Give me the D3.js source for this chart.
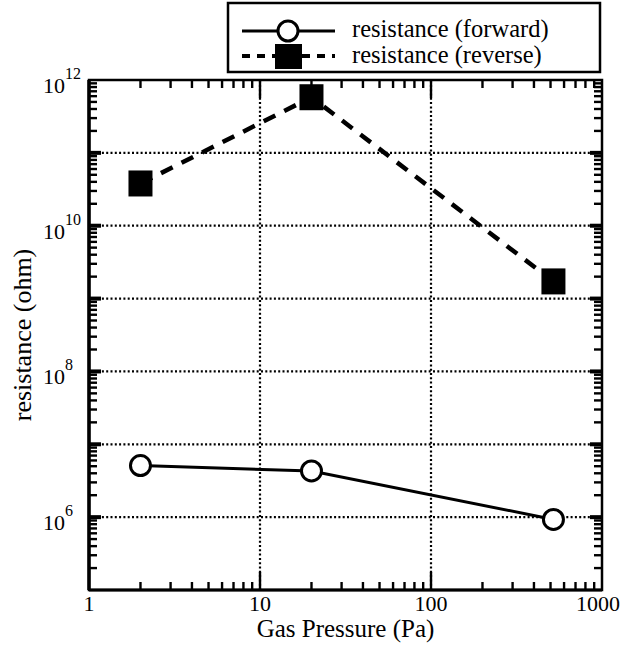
<!DOCTYPE html>
<html><head><meta charset="utf-8">
<script src="https://cdn.jsdelivr.net/npm/d3@7"></script>
<style>body{margin:0;background:#fff}svg{display:block}text{font-family:"Liberation Serif","Times New Roman",serif;fill:#000}</style>
</head><body>
<script>
const pressure = [2, 20, 520];
const forward = [5.1e6, 4.3e6, 9.3e5];
const reverse = [3.8e10, 5.8e11, 1.72e9];
const seriesNames = ["resistance (forward)", "resistance (reverse)"];
const xTickLabels = ["1", "10", "100", "1000"];
const yTickExp = [6, 8, 10, 12];

const W = 621, H = 648;
const m = {l: 89, r: 19, t: 80, b: 58};
const svg = d3.select("body").append("svg").attr("width", W).attr("height", H);
const x = d3.scaleLog().domain([1, 1000]).range([m.l, W - m.r]);
const y = d3.scaleLog().domain([1e5, 1e12]).range([H - m.b, m.t]);
const x0 = m.l, x1 = W - m.r, y0 = H - m.b, y1 = m.t;

// grid
const g = svg.append("g").attr("stroke", "#000").attr("stroke-width", 2.2).attr("stroke-dasharray", "2,2.3");
[10, 100].forEach(v => g.append("line").attr("x1", x(v)).attr("x2", x(v)).attr("y1", y0).attr("y2", y1));
[1e6, 1e7, 1e8, 1e9, 1e10, 1e11].forEach(v => g.append("line").attr("y1", y(v)).attr("y2", y(v)).attr("x1", x0).attr("x2", x1));

// ticks
const xMinor = [], yMinor = [];
for (let d = 1; d < 1000; d *= 10) for (let k = 2; k <= 9; k++) xMinor.push(d * k);
for (let e = 5; e < 12; e++) for (let k = 2; k <= 9; k++) yMinor.push(k * Math.pow(10, e));
const xMajor = [10, 100];
const yMajor = d3.range(6, 12).map(e => Math.pow(10, e));
const tk = svg.append("g").attr("stroke", "#000").attr("stroke-width", 2.4);
xMinor.forEach(v => {
  tk.append("line").attr("x1", x(v)).attr("x2", x(v)).attr("y1", y0).attr("y2", y0 - 8);
  tk.append("line").attr("x1", x(v)).attr("x2", x(v)).attr("y1", y1).attr("y2", y1 + 8);
});
xMajor.forEach(v => {
  tk.append("line").attr("x1", x(v)).attr("x2", x(v)).attr("y1", y0).attr("y2", y0 - 18);
  tk.append("line").attr("x1", x(v)).attr("x2", x(v)).attr("y1", y1).attr("y2", y1 + 18);
});
yMinor.forEach(v => {
  tk.append("line").attr("y1", y(v)).attr("y2", y(v)).attr("x1", x0).attr("x2", x0 + 8);
  tk.append("line").attr("y1", y(v)).attr("y2", y(v)).attr("x1", x1).attr("x2", x1 - 8);
});
yMajor.forEach(v => {
  tk.append("line").attr("y1", y(v)).attr("y2", y(v)).attr("x1", x0).attr("x2", x0 + 12).attr("stroke-width", 4);
  tk.append("line").attr("y1", y(v)).attr("y2", y(v)).attr("x1", x1).attr("x2", x1 - 12).attr("stroke-width", 4);
});

// frame
svg.append("rect").attr("x", x0).attr("y", y1).attr("width", x1 - x0).attr("height", y0 - y1)
  .attr("fill", "none").attr("stroke", "#000").attr("stroke-width", 2.5);
svg.append("line").attr("x1", x0).attr("x2", x0).attr("y1", y1).attr("y2", y0).attr("stroke", "#000").attr("stroke-width", 3.5);
svg.append("line").attr("x1", x0).attr("x2", x1).attr("y1", y0).attr("y2", y0).attr("stroke", "#000").attr("stroke-width", 3);

// tick labels
xTickLabels.forEach((s, i) => {
  const last = i === xTickLabels.length - 1;
  svg.append("text").attr("x", last ? W - 1 : x(+s)).attr("y", y0 + 21)
    .attr("text-anchor", last ? "end" : "middle")
    .attr("font-size", 22).text(s);
});
yTickExp.forEach(e => {
  const t = svg.append("text").attr("x", 43).attr("y", y(Math.pow(10, e)) + 13).attr("font-size", 22);
  t.append("tspan").text("10");
  t.append("tspan").attr("dy", -14).attr("font-size", 16).text(e);
});

// axis titles
svg.append("text").attr("x", (x0 + x1) / 2).attr("y", 637).attr("text-anchor", "middle").attr("font-size", 25).text("Gas Pressure (Pa)");
svg.append("text").attr("transform", `translate(31,${(y0 + y1) / 2}) rotate(-90)`).attr("text-anchor", "middle").attr("font-size", 26).text("resistance (ohm)");

// series
const line = d3.line().x(d => x(d[0])).y(d => y(d[1]));
const fData = pressure.map((p, i) => [p, forward[i]]);
const rData = pressure.map((p, i) => [p, reverse[i]]);
svg.append("path").datum(fData).attr("d", line).attr("fill", "none").attr("stroke", "#000").attr("stroke-width", 3);
svg.append("path").datum(rData).attr("d", line).attr("fill", "none").attr("stroke", "#000").attr("stroke-width", 4.5).attr("stroke-dasharray", "13,10");
fData.forEach(d => svg.append("circle").attr("cx", x(d[0])).attr("cy", y(d[1])).attr("r", 10).attr("fill", "#fff").attr("stroke", "#000").attr("stroke-width", 3));
rData.forEach(d => svg.append("rect").attr("x", x(d[0]) - 12).attr("y", y(d[1]) - 13).attr("width", 24).attr("height", 26).attr("fill", "#000"));

// legend
const lg = svg.append("g");
lg.append("rect").attr("x", 228).attr("y", 3).attr("width", 372).attr("height", 69).attr("fill", "#fff").attr("stroke", "#000").attr("stroke-width", 2.5);
lg.append("line").attr("x1", 242).attr("x2", 335).attr("y1", 31).attr("y2", 31).attr("stroke", "#000").attr("stroke-width", 3);
lg.append("circle").attr("cx", 288).attr("cy", 31).attr("r", 10).attr("fill", "#fff").attr("stroke", "#000").attr("stroke-width", 3);
lg.append("line").attr("x1", 242).attr("x2", 335).attr("y1", 56).attr("y2", 56).attr("stroke", "#000").attr("stroke-width", 4).attr("stroke-dasharray", "8,7");
lg.append("rect").attr("x", 275).attr("y", 44).attr("width", 27).attr("height", 25).attr("fill", "#000");
seriesNames.forEach((s, i) => lg.append("text").attr("x", 352).attr("y", 37 + i * 26).attr("font-size", 24.5).text(s));
</script>
</body></html>
